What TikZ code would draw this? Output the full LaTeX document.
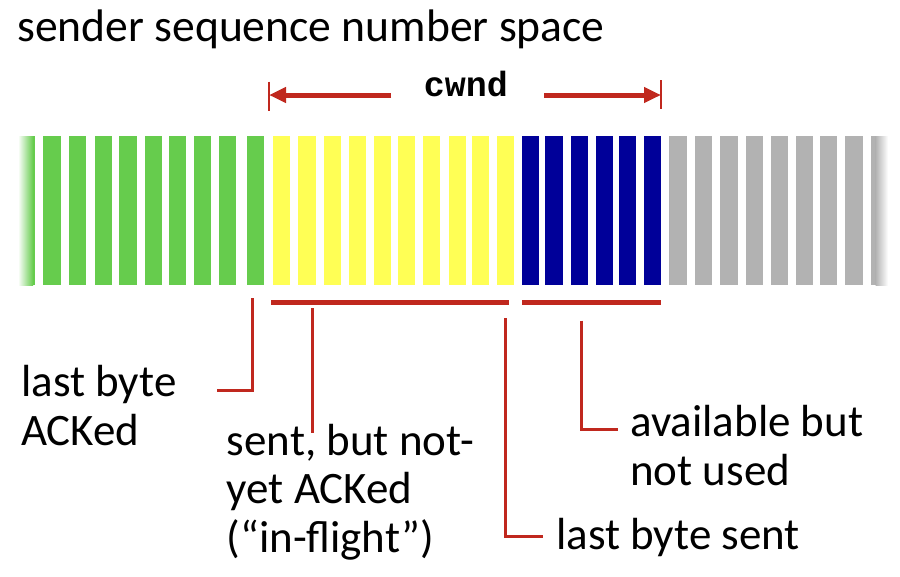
\documentclass[tikz,border=0pt]{standalone}
\usepackage{fontspec}
\setmainfont{Carlito}
\setmonofont{Liberation Mono}
\usetikzlibrary{arrows.meta}
\definecolor{greenbar}{RGB}{102,204,77}
\definecolor{yellowbar}{RGB}{255,255,85}
\definecolor{bluebar}{RGB}{0,0,153}
\definecolor{graybar}{RGB}{178,178,178}
\definecolor{redl}{RGB}{192,40,30}
\begin{document}
\begin{tikzpicture}[x=1pt,y=-1pt,
  lbl/.style={anchor=base west,inner sep=0pt,font=\fontsize{45}{48.5}\selectfont},
  bracket/.style={draw=redl,line width=5pt},
  conn/.style={draw=redl,line width=3pt},
  tick/.style={draw=redl,line width=1.5pt},
  cwarrow/.style={draw=redl,line width=5pt,-{Triangle[length=17pt,width=15pt]}}
]
\useasboundingbox (0,0) rectangle (900,576);
% bars
\foreach \x in {43.3,69,94.7,119.3,145,169,194,219,246.7}
  \fill[greenbar] (\x,136) rectangle ++(17.3,149);
\foreach \x in {273,298.3,323.7,349,374,398,423,448.7,472,496.7}
  \fill[yellowbar] (\x,136) rectangle ++(17.3,149);
\foreach \x in {521.5,545.3,571,596,619,644}
  \fill[bluebar] (\x,136) rectangle ++(17.3,149);
\foreach \x in {669.3,695,720.3,746,771,796,820,845.3}
  \fill[graybar] (\x,136) rectangle ++(17.3,149);
\shade[left color=white,right color=greenbar] (18,136) rectangle (33,285);
\fill[greenbar] (32.5,136) rectangle (35,285);
\fill[graybar] (870.7,136) rectangle (876,285);
\shade[left color=graybar,right color=white] (875.5,136) rectangle (888,285);
% cwnd
\node[anchor=base,inner sep=0pt,font=\ttfamily\bfseries\fontsize{35}{40}\selectfont] (cwnd) at (466,96) {cwnd};
\coordinate (cwL) at (269,95);
\coordinate (cwR) at (661,95);
\draw[cwarrow] (391,95) -- (cwL);
\draw[cwarrow] (544,95) -- (cwR);
\draw[tick] (269,81.5) -- (269,111);
\draw[tick] (661,80) -- (661,108.5);
% brackets
\draw[bracket] (271,302.7) -- (509,302.7);
\draw[bracket] (522,302.7) -- (660.7,302.7);
% labels
\node[lbl,font=\fontsize{45.6}{48.5}\selectfont] (title) at (17,41) {sender sequence number space};
\node[lbl] (acked) at (21,396.7) {\vtop{\hbox{last byte}\hbox{ACKed}}};
\node[lbl] (flight) at (226.7,455) {\vtop{\hbox{sent, but not-}\hbox{yet ACKed}\hbox{(“in-flight”)}}};
\node[lbl] (avail) at (630,436.7) {\vtop{\hbox{available but}\hbox{not used}}};
\node[lbl] (sent) at (556,549.3) {last byte sent};
% connectors
\draw[conn] (252.7,298) -- (252.7,390) -- (216.7,390);
\draw[conn] (312.3,308) -- (312.3,433);
\draw[conn] (505.7,318) -- (505.7,536.7) -- (542.7,536.7);
\draw[conn] (581.7,320.7) -- (581.7,429) -- (618.3,429);
\end{tikzpicture}
\end{document}
